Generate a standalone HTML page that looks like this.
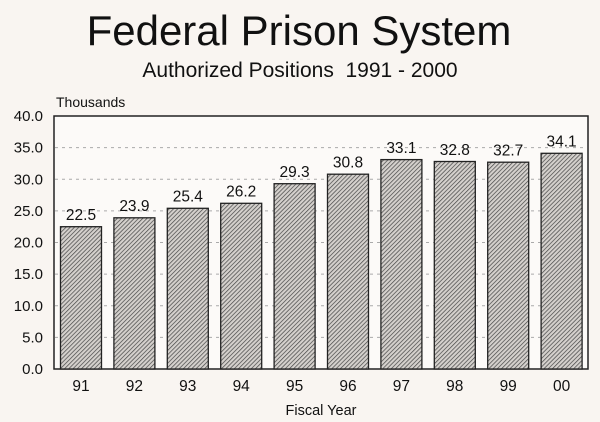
<!DOCTYPE html>
<html><head><style>
html,body{margin:0;padding:0;background:#f9f5f1;}
</style></head><body>
<svg width="600" height="422" xmlns="http://www.w3.org/2000/svg" style="display:block;font-family:'Liberation Sans',sans-serif;">
<defs>
<pattern id="h" patternUnits="userSpaceOnUse" width="3" height="3" patternTransform="rotate(45)">
<rect width="3" height="3" fill="#d4d0cc"/>
<line x1="0" y1="0" x2="0" y2="3" stroke="#444" stroke-width="1.4"/>
</pattern>
</defs>
<rect width="600" height="422" fill="#f9f5f1"/>
<text x="299" y="45" font-size="42" text-anchor="middle" fill="#111">Federal Prison System</text>
<text x="300" y="77" font-size="21" text-anchor="middle" fill="#111">Authorized Positions&#160; 1991 - 2000</text>
<text x="56" y="107" font-size="14" fill="#111">Thousands</text>
<rect x="54" y="116" width="534" height="253" fill="#fcfaf8" stroke="#222" stroke-width="1.5"/>
<g stroke="#aaa" stroke-dasharray="3,4" stroke-width="1">
<line x1="55" x2="587" y1="147.6" y2="147.6"/><line x1="55" x2="587" y1="179.3" y2="179.3"/>
<line x1="55" x2="587" y1="210.9" y2="210.9"/><line x1="55" x2="587" y1="242.5" y2="242.5"/>
<line x1="55" x2="587" y1="274.1" y2="274.1"/><line x1="55" x2="587" y1="305.8" y2="305.8"/>
<line x1="55" x2="587" y1="337.4" y2="337.4"/>
</g>
<g font-size="15" fill="#111" text-anchor="end">
<text x="43" y="121">40.0</text><text x="43" y="152.6">35.0</text><text x="43" y="184.3">30.0</text>
<text x="43" y="215.9">25.0</text><text x="43" y="247.5">20.0</text><text x="43" y="279.1">15.0</text>
<text x="43" y="310.8">10.0</text><text x="43" y="342.4">5.0</text><text x="43" y="374">0.0</text>
</g>
<g stroke="#222" stroke-width="1.3" fill="url(#h)">
<rect x="60.5" y="226.7" width="41" height="142.3"/>
<rect x="113.9" y="217.8" width="41" height="151.2"/>
<rect x="167.3" y="208.3" width="41" height="160.7"/>
<rect x="220.7" y="203.3" width="41" height="165.7"/>
<rect x="274.1" y="183.7" width="41" height="185.3"/>
<rect x="327.5" y="174.2" width="41" height="194.8"/>
<rect x="380.9" y="159.6" width="41" height="209.4"/>
<rect x="434.3" y="161.5" width="41" height="207.5"/>
<rect x="487.7" y="162.2" width="41" height="206.8"/>
<rect x="541.1" y="153.3" width="41" height="215.7"/>
</g>
<g font-size="15.5" fill="#111" text-anchor="middle">
<text x="81" y="220">22.5</text><text x="134.4" y="211">23.9</text><text x="187.8" y="201.5">25.4</text>
<text x="241.2" y="196.5">26.2</text><text x="294.6" y="177">29.3</text><text x="348" y="167.5">30.8</text>
<text x="401.4" y="153">33.1</text><text x="454.8" y="155">32.8</text><text x="508.2" y="155.5">32.7</text>
<text x="561.6" y="146.5">34.1</text>
</g>
<g font-size="15.5" fill="#111" text-anchor="middle">
<text x="81" y="391">91</text><text x="134.4" y="391">92</text><text x="187.8" y="391">93</text>
<text x="241.2" y="391">94</text><text x="294.6" y="391">95</text><text x="348" y="391">96</text>
<text x="401.4" y="391">97</text><text x="454.8" y="391">98</text><text x="508.2" y="391">99</text>
<text x="561.6" y="391">00</text>
</g>
<text x="321" y="415" font-size="14.5" fill="#111" text-anchor="middle">Fiscal Year</text>
</svg>
</body></html>
